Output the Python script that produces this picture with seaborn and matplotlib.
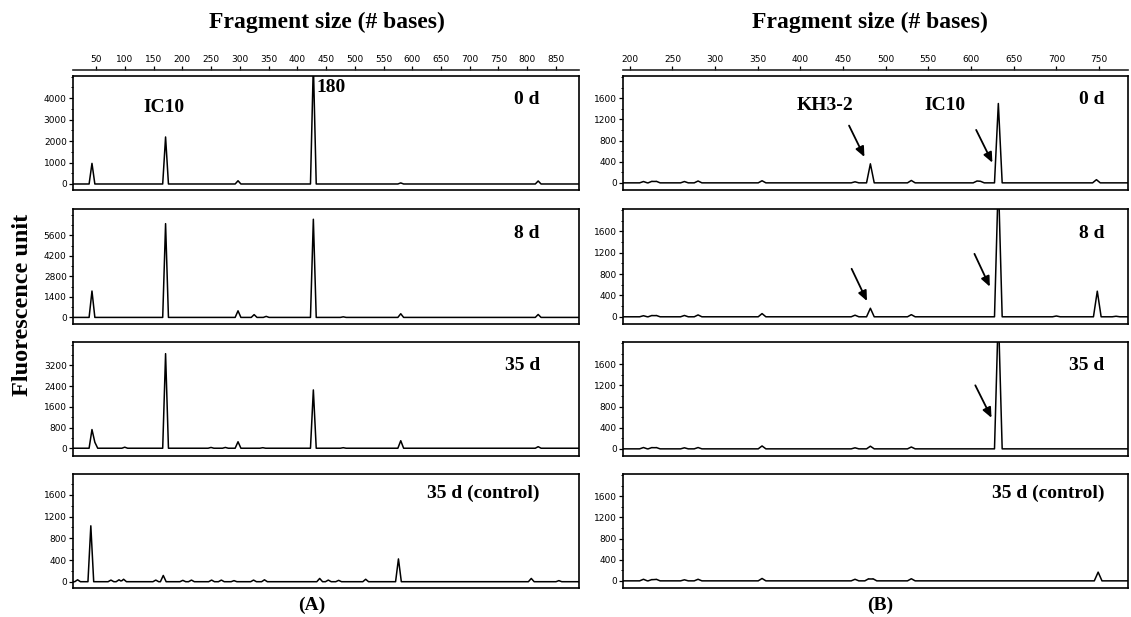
import numpy as np
import pandas as pd
import matplotlib
matplotlib.use("Agg")
import matplotlib.pyplot as plt
from matplotlib.ticker import MultipleLocator, FixedLocator
import seaborn as sns

# ---------------- data (peak positions in bases, peak heights in fluorescence units)
# Panel A
a0_pos = [43, 171, 297, 428, 580, 819]
a0_hgt = [960, 2190, 150, 5600, 50, 140]
a8_pos = [43, 171, 297, 325, 346, 428, 480, 580, 819]
a8_hgt = [1800, 6400, 450, 190, 70, 6700, 40, 250, 200]
a35_pos = [43, 48, 100, 171, 250, 275, 297, 340, 428, 480, 580, 819]
a35_hgt = [720, 230, 40, 3650, 30, 30, 250, 20, 2250, 20, 290, 60]
actl_pos = [18, 41, 76, 90, 98, 154, 167, 201, 216, 251, 268, 290, 324, 343,
            439, 454, 472, 519, 576, 807, 855]
actl_hgt = [35, 1030, 30, 35, 45, 30, 115, 25, 30, 30, 30, 20, 30, 35,
            60, 30, 25, 45, 420, 60, 20]
# Panel B
b0_pos = [216, 226, 231, 264, 280, 355, 464, 482, 530, 607, 611, 632, 747]
b0_hgt = [25, 30, 30, 25, 35, 40, 20, 360, 45, 35, 30, 1500, 60]
b8_pos = [216, 226, 231, 264, 280, 355, 464, 482, 530, 632, 700, 748, 770]
b8_hgt = [20, 25, 25, 25, 35, 60, 30, 160, 40, 2600, 15, 480, 10]
b35_pos = [216, 226, 231, 264, 280, 355, 464, 482, 530, 632]
b35_hgt = [25, 25, 25, 20, 25, 55, 20, 50, 35, 2600]
bctl_pos = [216, 226, 231, 264, 280, 355, 464, 480, 485, 530, 749]
bctl_hgt = [30, 25, 30, 20, 30, 45, 30, 40, 40, 40, 165]

# axis ranges and tick labels
a_xlim = (10, 890)
b_xlim = (192, 784)
a_xticks = [50, 100, 150, 200, 250, 300, 350, 400, 450, 500, 550, 600, 650, 700, 750, 800, 850]
b_xticks = [200, 250, 300, 350, 400, 450, 500, 550, 600, 650, 700, 750]
a_ylims = [(-280, 5030), (-450, 7400), (-300, 4100), (-116, 1985)]
a_ysteps = [1000, 1400, 800, 400]
a_ymax_tick = [4000, 5600, 3200, 1600]
b_ylims = [(-135, 2020)] * 4
b_ystep = 400
b_ymax_tick = 1600
conditions = ["0 d", "8 d", "35 d", "35 d (control)"]

# ---------------- style
sns.set_theme(style="white")
plt.rcParams["font.family"] = ["DejaVu Sans"]
plt.rcParams["text.color"] = "black"
plt.rcParams["axes.labelcolor"] = "black"
plt.rcParams["xtick.color"] = "black"
plt.rcParams["ytick.color"] = "black"
SERIF = ["Liberation Serif", "DejaVu Serif"]


def trace(pos, hgt, xlim, hw):
    """Electropherogram trace: baseline with a triangular peak at each read peak."""
    xs = [xlim[0], xlim[1]]
    for p in pos:
        xs += [p - hw, p, p + hw]
    xs = np.array(sorted(set(xs)))
    ys = np.zeros_like(xs, dtype=float)
    for p, h in zip(pos, hgt):
        ys = np.maximum(ys, h * np.clip(1 - np.abs(xs - p) / hw, 0, None))
    return pd.DataFrame({"size": xs, "rfu": ys})


W, H = 1131, 617
fig = plt.figure(figsize=(W / 100, H / 100), dpi=100)

rows_px = [(76, 190), (209, 324), (342, 456), (474, 588)]
colA = (73, 579)
colB = (623, 1128)


def make_ax(col, row):
    l, r = col
    t, b = row
    return fig.add_axes([l / W, 1 - b / H, (r - l) / W, (b - t) / H])


a_series = [(a0_pos, a0_hgt), (a8_pos, a8_hgt), (a35_pos, a35_hgt), (actl_pos, actl_hgt)]
b_series = [(b0_pos, b0_hgt), (b8_pos, b8_hgt), (b35_pos, b35_hgt), (bctl_pos, bctl_hgt)]

axesA, axesB = [], []
for i in range(4):
    for side in ("A", "B"):
        if side == "A":
            ax = make_ax(colA, rows_px[i])
            pos, hgt = a_series[i]
            xlim, ylim = a_xlim, a_ylims[i]
            step, ymaxt = a_ysteps[i], a_ymax_tick[i]
            hw = 5
            axesA.append(ax)
        else:
            ax = make_ax(colB, rows_px[i])
            pos, hgt = b_series[i]
            xlim, ylim = b_xlim, b_ylims[i]
            step, ymaxt = b_ystep, b_ymax_tick
            hw = 4.5
            axesB.append(ax)
        df = trace(pos, hgt, xlim, hw)
        sns.lineplot(data=df, x="size", y="rfu", ax=ax, color="black", lw=1.1,
                     estimator=None, sort=False)
        ax.set_xlim(*xlim)
        ax.set_ylim(*ylim)
        ax.set_xlabel("")
        ax.set_ylabel("")
        ax.set_xticks([])
        ax.yaxis.set_major_locator(FixedLocator(list(range(0, ymaxt + 1, step))))
        ax.yaxis.set_minor_locator(MultipleLocator(step / 2))
        ax.tick_params(axis="y", which="major", direction="out", length=3, width=0.9,
                       labelsize=6.5, pad=1.5, left=True, colors="black")
        ax.tick_params(axis="y", which="minor", direction="out", length=1.5, width=0.7, left=True)
        for s in ax.spines.values():
            s.set_visible(True)
            s.set_color("black")
            s.set_linewidth(1.2)
        ax.set_facecolor("white")
        # top ruler on first row
        if i == 0:
            sec = ax.secondary_xaxis("top")
            sec.set_xticks(a_xticks if side == "A" else b_xticks)
            sec.spines["top"].set_position(("outward", 4))
            sec.spines["top"].set_linewidth(1.2)
            sec.tick_params(direction="out", length=3, width=0.9, labelsize=6.5, pad=1.5,
                            colors="black")
        # condition label
        xr = 822 if side == "A" else 756
        yr = 0.79 if i < 3 else 0.83
        ax.text(xr, yr, conditions[i], transform=ax.get_xaxis_transform(),
                ha="right", va="center", fontsize=14, fontweight="bold", family=SERIF,
                color="black")

# peak labels in panel A
axA0 = axesA[0]
axA0.text(168, 0.72, "IC10", transform=axA0.get_xaxis_transform(), ha="center", va="center",
          fontsize=14, fontweight="bold", family=SERIF, color="black")
axA0.text(433, 0.9, "180", transform=axA0.get_xaxis_transform(), ha="left", va="center",
          fontsize=14, fontweight="bold", family=SERIF, color="black")

# peak labels and arrows in panel B
axB0 = axesB[0]
axB0.text(429, 0.74, "KH3-2", transform=axB0.get_xaxis_transform(), ha="center", va="center",
          fontsize=14, fontweight="bold", family=SERIF, color="black")
axB0.text(570, 0.74, "IC10", transform=axB0.get_xaxis_transform(), ha="center", va="center",
          fontsize=14, fontweight="bold", family=SERIF, color="black")

arrows = [
    (0, (457, 0.565), (475, 0.29)),
    (0, (606, 0.527), (625, 0.24)),
    (1, (460, 0.48), (478, 0.20)),
    (1, (604, 0.61), (622, 0.325)),
    (2, (605, 0.62), (624, 0.335)),
]
for r, tail, head in arrows:
    axb = axesB[r]
    axb.annotate("", xy=head, xytext=tail, xycoords=axb.get_xaxis_transform(),
                 textcoords=axb.get_xaxis_transform(),
                 arrowprops=dict(arrowstyle="-|>,head_length=0.5,head_width=0.22",
                                 color="black", lw=1.3, shrinkA=0, shrinkB=0))

# figure-level texts
fig.text(327 / W, 1 - 22 / H, "Fragment size (# bases)", ha="center", va="center",
         fontsize=17, fontweight="bold", family=SERIF, color="black")
fig.text(870 / W, 1 - 22 / H, "Fragment size (# bases)", ha="center", va="center",
         fontsize=17, fontweight="bold", family=SERIF, color="black")
fig.text(22 / W, 1 - 305 / H, "Fluorescence unit", ha="center", va="center", rotation=90,
         fontsize=17.5, fontweight="bold", family=SERIF, color="black")
fig.text(312 / W, 1 - 605 / H, "(A)", ha="center", va="center",
         fontsize=14, fontweight="bold", family=SERIF, color="black")
fig.text(880 / W, 1 - 605 / H, "(B)", ha="center", va="center",
         fontsize=14, fontweight="bold", family=SERIF, color="black")

fig.savefig("out.png", dpi=100, facecolor="white")
